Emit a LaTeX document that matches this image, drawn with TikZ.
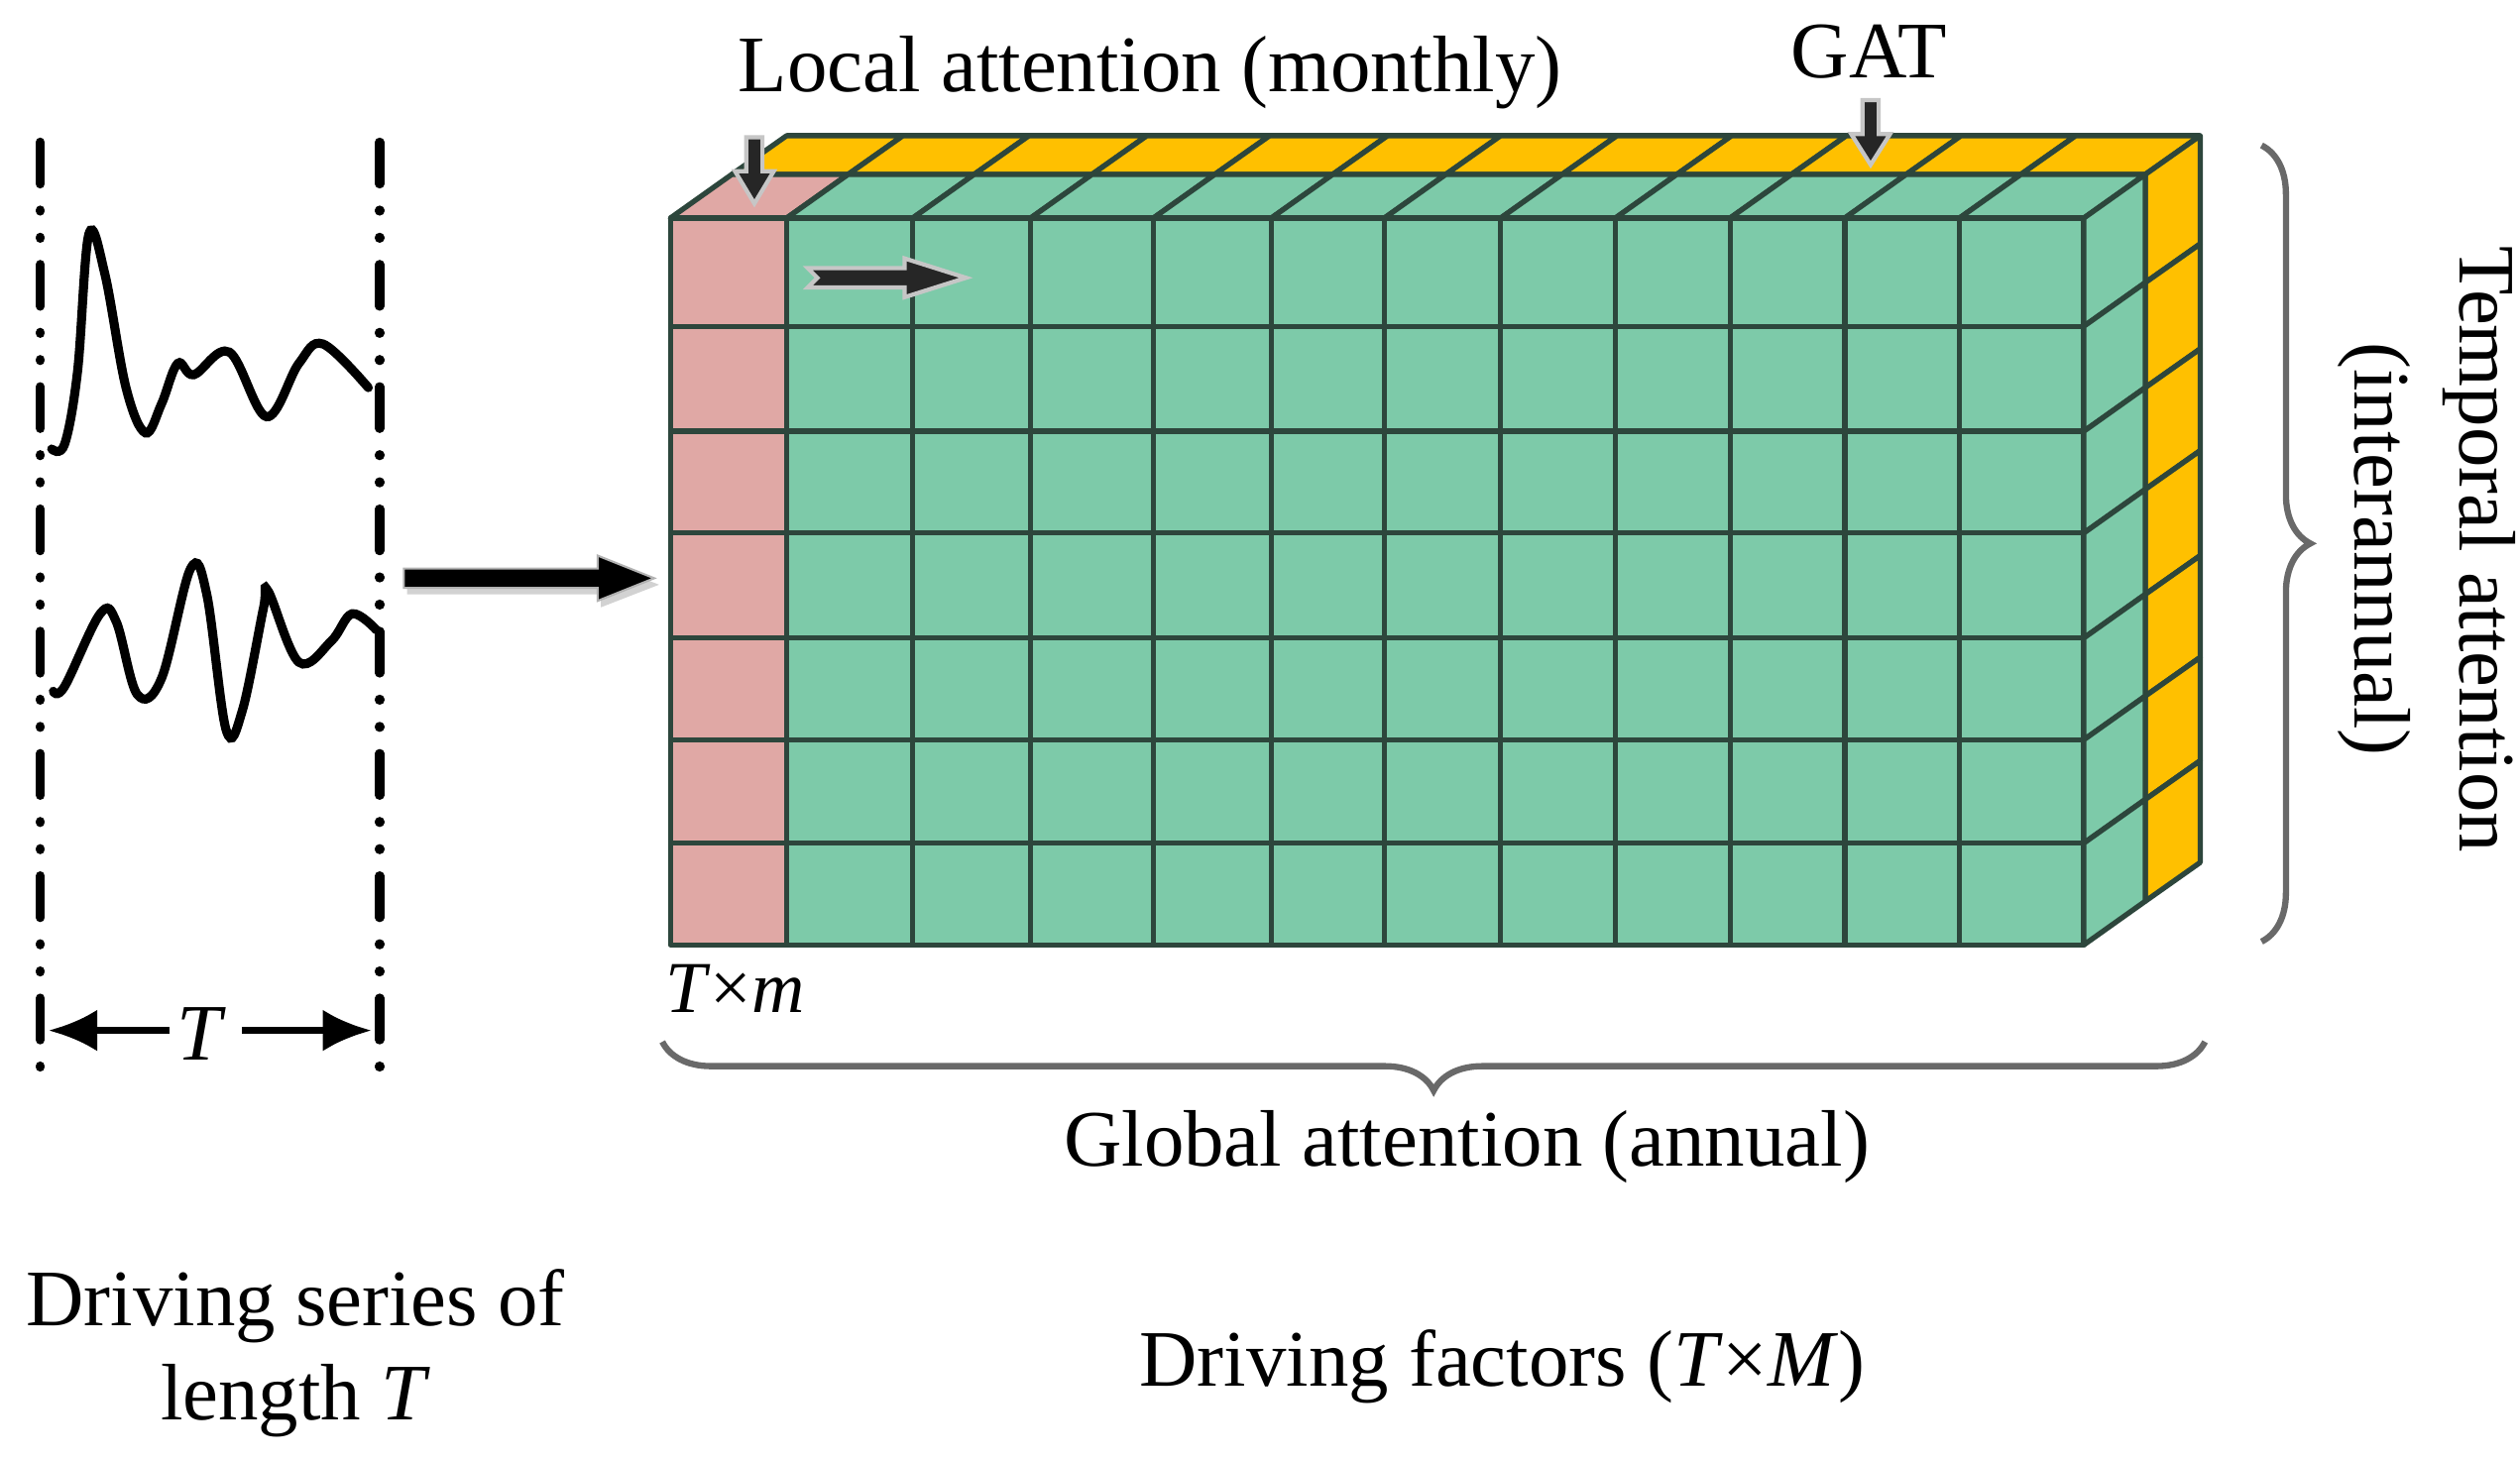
\documentclass[tikz,border=0pt]{standalone}
\usepackage{fontspec}
\setmainfont{Liberation Serif}
\usetikzlibrary{decorations.pathreplacing,calc,arrows.meta}
\definecolor{grn}{RGB}{125,202,169}
\definecolor{pnk}{RGB}{224,168,165}
\definecolor{ylw}{RGB}{255,192,0}
\definecolor{edg}{RGB}{45,70,60}
\definecolor{brc}{RGB}{105,105,105}
\tikzset{
 cell/.style={draw=edg,line width=1.5pt,line join=round},
 lbl/.style={font=\fontsize{23}{27}\selectfont,inner sep=0pt},
 blk/.style={fill=black!85,draw=gray!45,line width=1.2pt,line join=miter},
 bnd/.style={line width=2.6pt,dash pattern=on 12pt off 7.5pt on 0.3pt off 7.5pt on 0.3pt off 7.5pt,line cap=round},
 wave/.style={line width=2.6pt,line cap=round},
 brace/.style={draw=brc,line width=1.8pt,decorate,decoration={brace,amplitude=14}}
}
\begin{document}
\begin{tikzpicture}[x=0.16295mm,y=-0.16295mm]
\useasboundingbox (0,0) rectangle (1560,904);
\def\dx{38}\def\dy{-27}\def\ex{34}\def\ey{-24}
\def\yT{135}\def\yB{585}\def\xR{1290}
% yellow back layer
\foreach \a/\b in {415/487,487/565,565/638,638/714,714/787,787/857,857/929,929/1000,1000/1071,1071/1142,1142/1213,1213/1290}{
  \draw[cell,fill=ylw] (\a+\dx,\yT+\dy) -- (\b+\dx,\yT+\dy) -- (\b+\dx+\ex,\yT+\dy+\ey) -- (\a+\dx+\ex,\yT+\dy+\ey) -- cycle;
}
\foreach \a/\b in {135/202,202/267,267/330,330/395,395/458,458/522,522/585}{
  \draw[cell,fill=ylw] (\xR+\dx,\a+\dy) -- (\xR+\dx+\ex,\a+\dy+\ey) -- (\xR+\dx+\ex,\b+\dy+\ey) -- (\xR+\dx,\b+\dy) -- cycle;
}
% front layer
\foreach \a/\b [count=\i] in {415/487,487/565,565/638,638/714,714/787,787/857,857/929,929/1000,1000/1071,1071/1142,1142/1213,1213/1290}{
  \ifnum\i=1 \def\fc{pnk}\else\def\fc{grn}\fi
  \draw[cell,fill=\fc] (\a,\yT) -- (\b,\yT) -- (\b+\dx,\yT+\dy) -- (\a+\dx,\yT+\dy) -- cycle;
  \foreach \c/\d in {135/202,202/267,267/330,330/395,395/458,458/522,522/585}{
    \draw[cell,fill=\fc] (\a,\c) rectangle (\b,\d);
  }
}
\foreach \a/\b in {135/202,202/267,267/330,330/395,395/458,458/522,522/585}{
  \draw[cell,fill=grn] (\xR,\a) -- (\xR+\dx,\a+\dy) -- (\xR+\dx,\b+\dy) -- (\xR,\b) -- cycle;
}
% small block arrows
\draw[blk] (462,85) -- (472,85) -- (472,106) -- (479,106) -- (467,126) -- (455,106) -- (462,106) -- cycle;
\draw[blk] (1153,62) -- (1163,62) -- (1163,83) -- (1170,83) -- (1158,102) -- (1146,83) -- (1153,83) -- cycle;
\draw[blk] (500,166) -- (560,166) -- (560,160) -- (598,172) -- (560,184) -- (560,178) -- (500,178) -- (506,172) -- cycle;
% big arrow
\fill[gray!35] (252,356) -- (372,356) -- (372,348) -- (408,362) -- (372,376) -- (372,368) -- (252,368) -- cycle;
\draw[fill=black,draw=gray!60,line width=0.6pt] (250,352) -- (370,352) -- (370,344) -- (405,358) -- (370,372) -- (370,364) -- (250,364) -- cycle;
% left bounds
\coordinate (l1) at (25,88); \coordinate (l2) at (25,668);
\coordinate (r1) at (235,88); \coordinate (r2) at (235,668);
\draw[bnd] (l1) -- (l2);
\draw[bnd] (r1) -- (r2);
\draw[wave] plot[smooth,tension=0.6] coordinates {(32,278) (40,275) (48,230) (55,145) (65,170) (78,240) (90,268) (100,250) (110,225) (120,232) (142,218) (165,258) (185,225) (200,213) (228,240)};
\draw[wave] plot[smooth,tension=0.6] coordinates {(33,428) (40,425) (62,380) (72,385) (85,430) (100,420) (118,352) (128,368) (140,452) (150,440) (163,377) (166,366) (185,410) (205,397) (218,380) (233,390)};
% T dimension
\coordinate (ta) at (30,638); \coordinate (tb) at (230,638);
\node[lbl] (tl) at (125,640) {\textit{T}};
\draw[line width=2pt,-{Latex[length=14pt,width=12pt]}] (105,638) -- (ta);
\draw[line width=2pt,-{Latex[length=14pt,width=12pt]}] (150,638) -- (tb);
% braces
\draw[brace] (1400,90) -- (1400,583);
\draw[brace] (1365,645) -- (410,645);
% labels
\node[lbl] (la) at (712,45) {Local attention (monthly)};
\node[lbl] (gat) at (1157,32) {GAT};
\node[lbl,rotate=-90] (ta1) at (1535,340) {Temporal attention};
\node[lbl,rotate=-90] (ta2) at (1470,340) {(interannual)};
\node[lbl,font=\fontsize{21}{25}\selectfont] (tm) at (455,612) {\textit{T}×\textit{m}};
\node[lbl] (ga) at (908,710) {Global attention (annual)};
\node[lbl] (df) at (930,846) {Driving factors (\textit{T}×\textit{M})};
\node[lbl,align=center] (ds) at (183,838) {Driving series of\\length \textit{T}};
\end{tikzpicture}
\end{document}
